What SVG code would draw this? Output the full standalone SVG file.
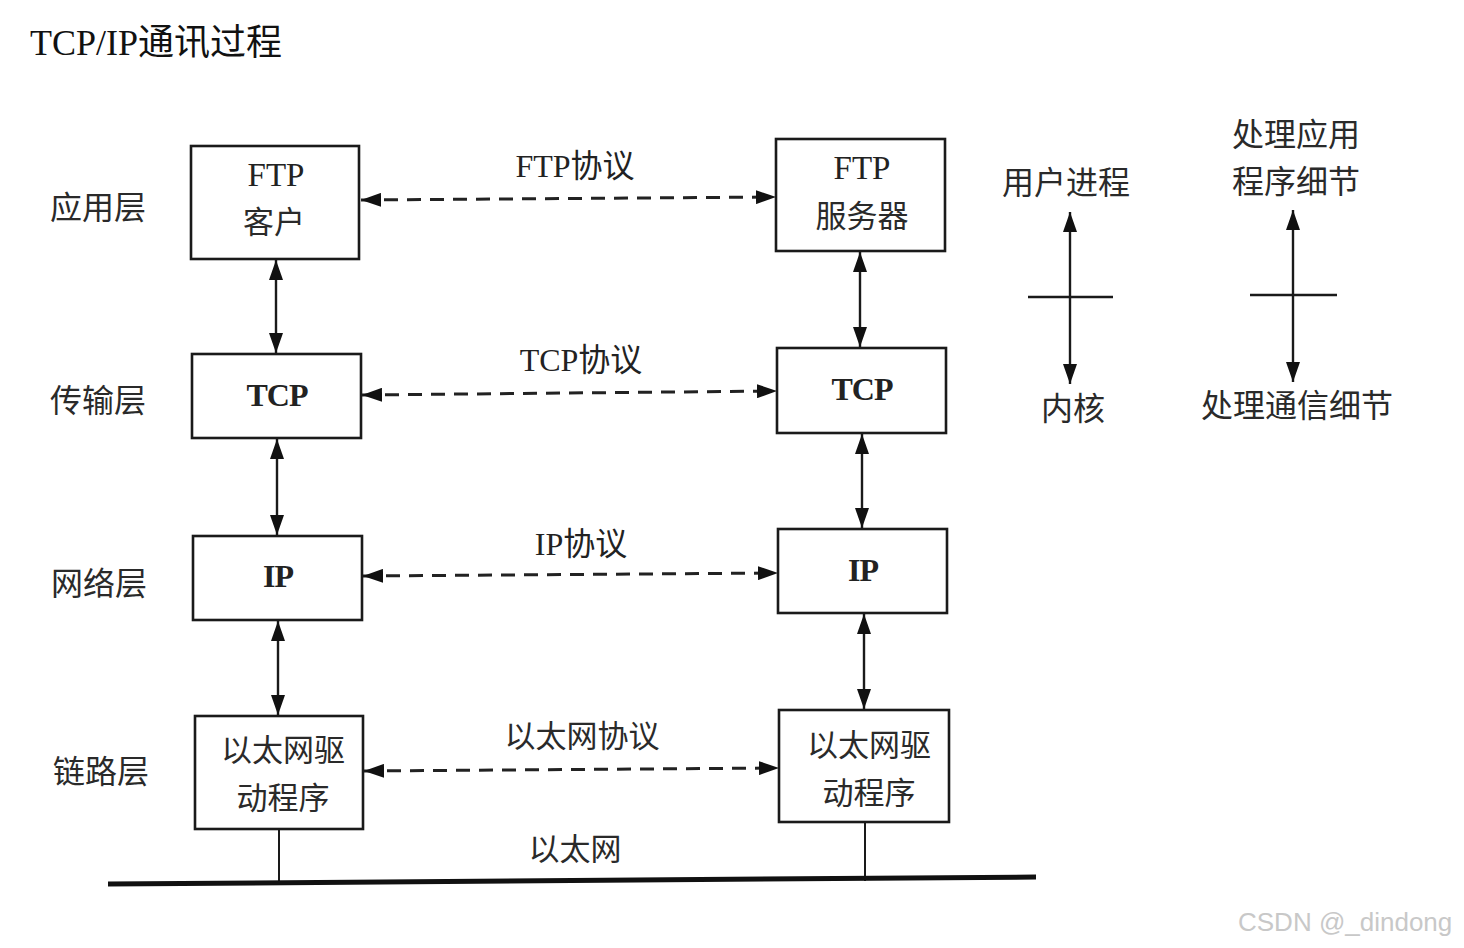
<svg xmlns="http://www.w3.org/2000/svg" width="1464" height="948" viewBox="0 0 1464 948">
  <style>
    .bg { fill: #ffffff; }
    .box { fill: #ffffff; stroke: #1a1a1a; stroke-width: 2.6; }
    .t { font-family: "Liberation Serif", "Noto Sans CJK SC", serif; fill: #222; text-anchor: middle; }
    .cj { font-family: "Noto Sans CJK SC", "Liberation Serif", sans-serif; fill: #2a2a2a; text-anchor: middle; }
    .b { font-weight: bold; letter-spacing: -1px; }
    .dash { stroke: #222; stroke-width: 3; stroke-dasharray: 14 9; fill: none; }
    .solid { stroke: #1a1a1a; stroke-width: 2.4; fill: none; }
    .thin { stroke: #1a1a1a; stroke-width: 2; fill: none; }
    .bus { stroke: #111; stroke-width: 5; }
    .mark { font-family: "Liberation Sans", "Noto Sans", sans-serif; fill: #c8c8c8; font-size: 26px; }
  </style>
  <defs>
    <marker id="ah" viewBox="0 0 20 14" refX="20" refY="7" markerWidth="20" markerHeight="14" markerUnits="userSpaceOnUse" orient="auto-start-reverse">
      <path d="M0,0 L20,7 L0,14 Z" fill="#111"/>
    </marker>
  </defs>

  <rect class="bg" x="0" y="0" width="1464" height="948"/>

  <!-- title -->
  <text x="30" y="55" font-family="Liberation Serif, Noto Sans CJK SC, serif" font-size="36" fill="#111">TCP/IP通讯过程</text>

  <!-- layer names -->
  <g id="layer-labels">
    <text class="cj" x="98" y="219" font-size="32">应用层</text>
    <text class="cj" x="98" y="412" font-size="32">传输层</text>
    <text class="cj" x="99" y="595" font-size="32">网络层</text>
    <text class="cj" x="101" y="783" font-size="32">链路层</text>
  </g>

  <!-- connectors -->
  <g id="connectors">
    <!-- peer protocols -->
    <line class="dash" x1="361" y1="200" x2="776" y2="197" marker-start="url(#ah)" marker-end="url(#ah)"/>
    <line class="dash" x1="362" y1="395" x2="777" y2="391" marker-start="url(#ah)" marker-end="url(#ah)"/>
    <line class="dash" x1="363" y1="576" x2="778" y2="573" marker-start="url(#ah)" marker-end="url(#ah)"/>
    <line class="dash" x1="364" y1="771" x2="779" y2="768" marker-start="url(#ah)" marker-end="url(#ah)"/>
    <!-- stack, left host -->
    <line class="solid" x1="276" y1="260" x2="276" y2="353" marker-start="url(#ah)" marker-end="url(#ah)"/>
    <line class="solid" x1="277" y1="439" x2="277" y2="535" marker-start="url(#ah)" marker-end="url(#ah)"/>
    <line class="solid" x1="278" y1="621" x2="278" y2="715" marker-start="url(#ah)" marker-end="url(#ah)"/>
    <!-- stack, right host -->
    <line class="solid" x1="860" y1="252" x2="860" y2="347" marker-start="url(#ah)" marker-end="url(#ah)"/>
    <line class="solid" x1="862" y1="434" x2="862" y2="528" marker-start="url(#ah)" marker-end="url(#ah)"/>
    <line class="solid" x1="864" y1="614" x2="864" y2="709" marker-start="url(#ah)" marker-end="url(#ah)"/>
    <!-- drops to the cable -->
    <line class="thin" x1="279" y1="829" x2="279" y2="883"/>
    <line class="thin" x1="865" y1="822" x2="865" y2="881"/>
    <!-- ethernet cable -->
    <line class="bus" x1="108" y1="884" x2="1036" y2="877"/>
  </g>

  <!-- protocol labels -->
  <g id="protocol-labels">
    <text class="t" x="575" y="177" font-size="32">FTP协议</text>
    <text class="t" x="581" y="371" font-size="32">TCP协议</text>
    <text class="t" x="581" y="555" font-size="32">IP协议</text>
    <text class="cj" x="582" y="747" font-size="31">以太网协议</text>
    <text class="cj" x="575" y="860" font-size="31">以太网</text>
  </g>

  <!-- left host -->
  <g id="ftp-client">
    <rect class="box" x="191" y="146" width="168" height="113"/>
    <text class="t" x="276" y="186" font-size="33">FTP</text>
    <text class="cj" x="274" y="233" font-size="31">客户</text>
  </g>
  <g id="tcp-left">
    <rect class="box" x="192" y="354" width="169" height="84"/>
    <text class="t b" x="277" y="406" font-size="32">TCP</text>
  </g>
  <g id="ip-left">
    <rect class="box" x="193" y="536" width="169" height="84"/>
    <text class="t b" x="278" y="587" font-size="32">IP</text>
  </g>
  <g id="eth-driver-left">
    <rect class="box" x="195" y="716" width="168" height="113"/>
    <text class="cj" x="283" y="761" font-size="31">以太网驱</text>
    <text class="cj" x="283" y="809" font-size="31">动程序</text>
  </g>

  <!-- right host -->
  <g id="ftp-server">
    <rect class="box" x="776" y="139" width="169" height="112"/>
    <text class="t" x="862" y="179" font-size="33">FTP</text>
    <text class="cj" x="862" y="227" font-size="31">服务器</text>
  </g>
  <g id="tcp-right">
    <rect class="box" x="777" y="348" width="169" height="85"/>
    <text class="t b" x="862" y="400" font-size="32">TCP</text>
  </g>
  <g id="ip-right">
    <rect class="box" x="778" y="529" width="169" height="84"/>
    <text class="t b" x="863" y="581" font-size="32">IP</text>
  </g>
  <g id="eth-driver-right">
    <rect class="box" x="779" y="710" width="170" height="112"/>
    <text class="cj" x="869" y="756" font-size="31">以太网驱</text>
    <text class="cj" x="869" y="804" font-size="31">动程序</text>
  </g>

  <!-- legend: user process / kernel -->
  <g id="legend-process">
    <text class="cj" x="1066" y="194" font-size="32">用户进程</text>
    <line class="solid" x1="1070" y1="212" x2="1070" y2="384" marker-start="url(#ah)" marker-end="url(#ah)"/>
    <line class="solid" x1="1028" y1="297" x2="1113" y2="297"/>
    <text class="cj" x="1073" y="420" font-size="32">内核</text>
  </g>

  <!-- legend: application details / communication details -->
  <g id="legend-details">
    <text class="cj" x="1296" y="146" font-size="32">处理应用</text>
    <text class="cj" x="1296" y="193" font-size="32">程序细节</text>
    <line class="solid" x1="1293" y1="210" x2="1293" y2="382" marker-start="url(#ah)" marker-end="url(#ah)"/>
    <line class="solid" x1="1250" y1="295" x2="1337" y2="295"/>
    <text class="cj" x="1297" y="417" font-size="32">处理通信细节</text>
  </g>

  <text class="mark" x="1238" y="931">CSDN @_dindong</text>
</svg>
